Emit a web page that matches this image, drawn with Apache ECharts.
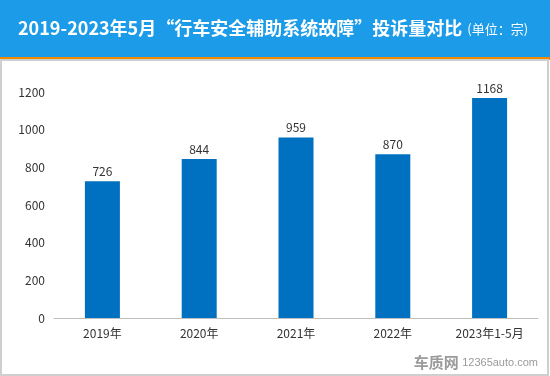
<!DOCTYPE html>
<html>
<head>
<meta charset="utf-8">
<script src="https://cdn.jsdelivr.net/npm/echarts@6/dist/echarts.min.js"></script>
<style>
  html, body { margin: 0; padding: 0; background: #fff; }
  #main { width: 550px; height: 376px; }
</style>
</head>
<body>
<div id="main"></div>
<script>
// 投诉量对比
var chart = echarts.init(document.getElementById('main'))
var years = ['2019年', '2020年', '2021年', '2022年', '2023年1-5月']
var counts = [726, 844, 959, 870, 1168]
var yTicks = [0, 200, 400, 600, 800, 1000, 1200]

var font = '"Noto Sans CJK SC", "Noto Sans", sans-serif'

var option = {
  animation: false,
  backgroundColor: '#fff',
  title: {
    left: 13,
    top: 14,
    text: '{a|2019-2023年5月“行车安全辅助系统故障”投诉量对比} {b|(单位：宗)}',
    textStyle: {
      rich: {
        a: { color: '#fff', fontSize: 18, fontWeight: 'bold', fontFamily: font },
        b: { color: '#fff', fontSize: 13, fontWeight: 'normal', fontFamily: font, padding: [3, 0, 0, 0] },
      },
    },
  },
  graphic: [
    {
      type: 'rect',
      z: -1,
      shape: { x: 0, y: 0, width: 550, height: 57 },
      style: { fill: '#1c9be8' },
    },
    {
      type: 'rect',
      z: -1,
      shape: { x: 0, y: 57, width: 550, height: 3 },
      style: { fill: '#f28a00' },
    },
    {
      type: 'rect',
      z: -1,
      shape: { x: 1, y: 60, width: 547, height: 315 },
      style: { fill: 'none', stroke: '#cfcfcf', lineWidth: 2 },
    },
    {
      type: 'text',
      right: 12,
      bottom: 6,
      style: {
        text: '{c|车质网} {d|12365auto.com}',
        rich: {
          c: { fill: '#9a9a9a', fontSize: 15, fontWeight: 'bold', fontFamily: font },
          d: { fill: '#9a9a9a', fontSize: 11, fontFamily: 'Arial, sans-serif' },
        },
      },
    },
  ],
  grid: {
    left: 54,
    right: 12,
    top: 92,
    bottom: 58,
  },
  xAxis: {
    type: 'category',
    data: years,
    axisTick: { show: false },
    axisLine: { lineStyle: { color: '#bfbfbf', width: 1 } },
    axisLabel: { color: '#333', fontSize: 12, fontFamily: font, margin: 9 },
  },
  yAxis: {
    type: 'value',
    min: yTicks[0],
    max: yTicks[yTicks.length - 1],
    interval: 200,
    axisLine: { show: false },
    axisTick: { show: false },
    splitLine: { show: false },
    axisLabel: {
      color: '#333',
      fontSize: 12,
      fontFamily: font,
      margin: 9,
      formatter: function (v) {
        return String(v)
      },
    },
  },
  series: [
    {
      name: '投诉量',
      type: 'bar',
      barWidth: 35,
      data: counts,
      itemStyle: { color: '#0070c0' },
      label: {
        show: true,
        position: 'top',
        color: '#333',
        fontSize: 12,
        fontFamily: font,
        distance: 4,
      },
    },
  ],
}
chart.setOption(option)
</script>
</body>
</html>
